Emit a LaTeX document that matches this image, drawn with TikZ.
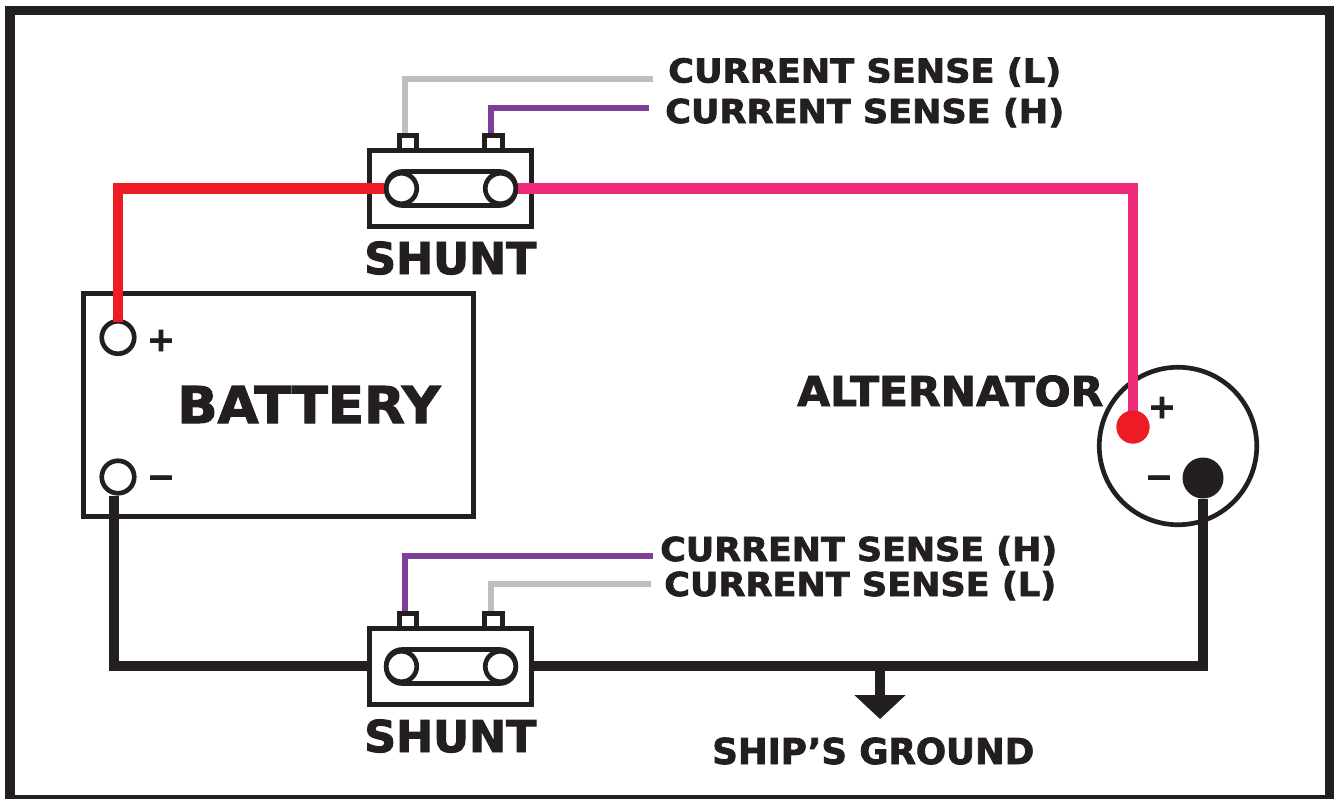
\documentclass[tikz,border=0pt]{standalone}
\usepackage{fontspec}
\usepackage{graphicx}
\usetikzlibrary{arrows.meta}
\newfontfamily\lblfont{DejaVu Sans}[BoldFeatures={FakeBold=2.2}]
\newlength\unitpx
\setlength\unitpx{0.75pt}
\newcommand\fitlabel[3]{\resizebox{#1\unitpx}{#2\unitpx}{\fontsize{10pt}{12pt}\lblfont\bfseries\rule{0pt}{7.29pt}\smash{#3}}}
\definecolor{inkblack}{HTML}{231F20}
\definecolor{wirered}{HTML}{ED1C24}
\definecolor{wirepink}{HTML}{EE2A7B}
\definecolor{wiregrey}{HTML}{BCBEC0}
\definecolor{wirepurple}{HTML}{7F3F98}
\tikzset{
  x=0.75pt, y=-0.75pt,
  boxline/.style={draw=inkblack, line width=3.5pt, fill=white, inner sep=0pt},
  partbox/.style n args={2}{boxline, rectangle, minimum width=#1*0.75pt, minimum height=#2*0.75pt},
  terminal/.style={boxline, circle, minimum size=#1*0.75pt},
  solidpin/.style={circle, inner sep=0pt, minimum size=#1*0.75pt},
  powerwire/.style={line width=7.8pt},
  sensewire/.style={line width=4pt},
  caption/.style={anchor=base west, inner sep=0pt, text=inkblack},
  signmark/.style={anchor=base, inner sep=0pt, text=inkblack, font=\fontsize{25pt}{25pt}\lblfont\bfseries},
}
\newcommand\shuntpart[2]{%
  \begin{scope}[shift={(0,#2)}]
    \node[partbox={17.5}{21}] (#1a) at (408,146) {};
    \node[partbox={17.5}{21}] (#1b) at (493.5,146) {};
    \node[partbox={162.5}{76.5}] (#1box) at (450.5,188.5) {};
    \node[partbox={129.5}{34}, rounded corners=12pt] (#1body) at (451,188.5) {};
    \node[terminal=30.5] (#1l) at (401.5,188.5) {};
    \node[terminal=30.5] (#1r) at (500.5,188.5) {};
  \end{scope}}
\begin{document}
\begin{tikzpicture}
\useasboundingbox (0,0) rectangle (1334,799);
% frame
\fill[inkblack] (5,6) rectangle (1334,799);
\fill[white] (15,15) rectangle (1325,795);

% parts
\node[partbox={390.5}{223.5}] (battery) at (278.5,405) {};
\node[terminal=32.5] (batp) at (118,337.5) {};
\node[terminal=32.5] (batm) at (118,477) {};
\node[boxline, circle, fill=none, minimum size=157.5*0.75pt] (alt) at (1178,446) {};
\shuntpart{top}{0}
\shuntpart{low}{478}

% labels
\node[caption] (senseL1) at (668,82.5) {\fitlabel{393}{24}{CURRENT SENSE (L)}};
\node[caption] (senseH1) at (665,123) {\fitlabel{399}{24}{CURRENT SENSE (H)}};
\node[caption] (senseH2) at (660,561) {\fitlabel{397}{24}{CURRENT SENSE (H)}};
\node[caption] (senseL2) at (664,596) {\fitlabel{392}{24}{CURRENT SENSE (L)}};
\node[caption] (shunttxt) at (364,274) {\fitlabel{172}{32}{SHUNT}};
\node[caption] (shuntlow) at (364,752) {\fitlabel{172}{32}{SHUNT}};
\node[caption] (shipgnd) at (712,764) {\fitlabel{322}{26}{SHIP’S GROUND}};
\node[caption] (alttxt) at (797,406) {\fitlabel{306}{30}{ALTERNATOR}};
\node[caption] (battxt) at (177,423) {\fitlabel{263}{37}{BATTERY}};
\node[signmark] (batplus) at (161,351) {+};
\node[signmark] (batminus) at (161,488) {−};
\node[signmark] (altplus) at (1162,418) {+};
\node[signmark] (altminus) at (1159,488) {−};

% power wires
\node[solidpin=33, fill=wirered] (altp) at (1133,427) {};
\node[solidpin=41, fill=inkblack] (altm) at (1203,478) {};
\draw[powerwire, draw=wirered, shorten >=-2pt] (topl.west) -| (batp.north);
\draw[powerwire, draw=wirepink, shorten >=-2pt] (topr.east) -| (altp.north);
\draw[powerwire, draw=inkblack] ([xshift=-3pt]batm.south) |- ([yshift=0.6pt]lowbox.west);
\draw[powerwire, draw=inkblack] ([yshift=0.6pt]lowbox.east) -| (altm.south);
\node[solidpin=33, fill=wirered] at (altp) {};
\coordinate (gtee) at (880,665);
\coordinate (gtip) at (880,719);
\draw[powerwire, draw=inkblack, -{Triangle[length=18pt,width=37.5pt]}] (gtee) -- (gtip);

% sense wires
\draw[sensewire, draw=wiregrey, shorten >=11pt] ([xshift=-2.25pt]topa.north) |- (senseL1.west |- 0,79);
\draw[sensewire, draw=wirepurple, shorten >=12pt] ([xshift=-1.9pt]topb.north) |- (senseH1.west |- 0,108);
\draw[sensewire, draw=wirepurple, shorten >=5pt] ([xshift=-2.25pt]lowa.north) |- (senseH2.west |- 0,556);
\draw[sensewire, draw=wiregrey, shorten >=9.5pt] ([xshift=-1.9pt]lowb.north) |- (senseL2.west |- 0,584);
\end{tikzpicture}
\end{document}
